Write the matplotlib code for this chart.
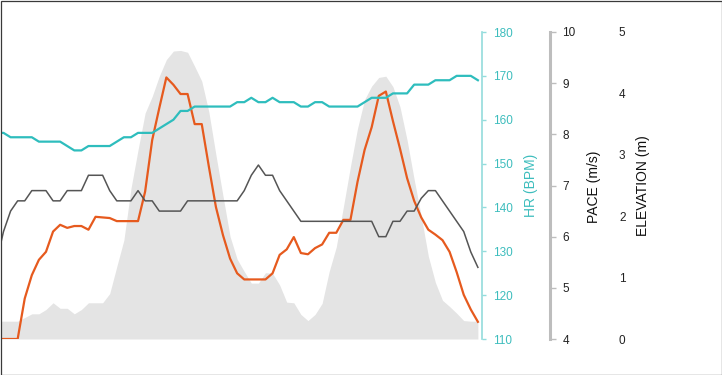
# -*-coding:Utf-8 -*
#######################################################################
# Importations :
import numpy as np
from matplotlib import pyplot as plt
from matplotlib.patches import Rectangle

#######################################################################
# Donnees (un point par echantillon) :

hr_bpm = [157, 157, 156, 156, 156, 156, 155, 155, 155, 155,
          154, 153, 153, 154, 154, 154, 154, 155, 156, 156,
          157, 157, 157, 158, 159, 160, 162, 162, 163, 163,
          163, 163, 163, 163, 164, 164, 165, 164, 164, 165,
          164, 164, 164, 163, 163, 164, 164, 163, 163, 163,
          163, 163, 164, 165, 165, 165, 166, 166, 166, 168,
          168, 168, 169, 169, 169, 170, 170, 170, 169]

pace_ms = [5.5, 6.1, 6.5, 6.7, 6.7, 6.9, 6.9, 6.9, 6.7, 6.7,
           6.9, 6.9, 6.9, 7.2, 7.2, 7.2, 6.9, 6.7, 6.7, 6.7,
           6.9, 6.7, 6.7, 6.5, 6.5, 6.5, 6.5, 6.7, 6.7, 6.7,
           6.7, 6.7, 6.7, 6.7, 6.7, 6.9, 7.2, 7.4, 7.2, 7.2,
           6.9, 6.7, 6.5, 6.3, 6.3, 6.3, 6.3, 6.3, 6.3, 6.3,
           6.3, 6.3, 6.3, 6.3, 6.0, 6.0, 6.3, 6.3, 6.5, 6.5,
           6.75, 6.9, 6.9, 6.7, 6.5, 6.3, 6.1, 5.7, 5.4]

elevation_m = [0, 0, 0, 0, 0.66, 1.04, 1.29, 1.42, 1.75, 1.86,
               1.81, 1.84, 1.84, 1.78, 1.99, 1.98, 1.97, 1.92, 1.92, 1.92,
               1.92, 2.40, 3.24, 3.76, 4.26, 4.14, 3.99, 3.99, 3.50, 3.50,
               2.81, 2.15, 1.69, 1.31, 1.07, 0.97, 0.97, 0.97, 0.97, 1.07,
               1.37, 1.46, 1.66, 1.40, 1.38, 1.48, 1.54, 1.73, 1.73, 1.94,
               1.94, 2.56, 3.08, 3.45, 3.96, 4.03, 3.55, 3.10, 2.62, 2.25,
               1.98, 1.78, 1.70, 1.61, 1.42, 1.09, 0.72, 0.48, 0.28]

terrain_m = [0.29, 0.29, 0.29, 0.29, 0.35, 0.41, 0.41, 0.48, 0.59, 0.50,
             0.50, 0.41, 0.48, 0.59, 0.59, 0.59, 0.74, 1.18, 1.61, 2.45,
             3.08, 3.68, 3.95, 4.28, 4.55, 4.69, 4.70, 4.67, 4.44, 4.20,
             3.70, 3.00, 2.33, 1.67, 1.30, 1.10, 0.91, 0.91, 1.08, 1.07,
             0.88, 0.60, 0.59, 0.40, 0.30, 0.40, 0.58, 1.10, 1.50, 2.15,
             2.81, 3.43, 3.90, 4.12, 4.26, 4.28, 4.11, 3.78, 3.24, 2.60,
             2.00, 1.35, 0.92, 0.63, 0.53, 0.42, 0.30, 0.29, 0.29]

hr_ticks = [110, 120, 130, 140, 150, 160, 170, 180]
pace_ticks = [4, 5, 6, 7, 8, 9, 10]
elev_ticks = [0, 1, 2, 3, 4, 5]

#######################################################################
# Fonctions locales :

W, H = 722, 375
TEAL = '#2ebdbd'


def clean_axis(ax, spine_pos, spine_color, spine_width, show_spine=True):
    """
    Ne garde que l'axe de droite, place a spine_pos (fraction d'axe).
    """
    for side in ('top', 'bottom', 'left'):
        ax.spines[side].set_visible(False)
    ax.spines['right'].set_position(('axes', spine_pos))
    ax.spines['right'].set_color(spine_color)
    ax.spines['right'].set_linewidth(spine_width)
    ax.spines['right'].set_visible(show_spine)
    ax.yaxis.set_ticks_position('right')
    ax.set_xticks([])


# ------------------------------------------------------------------- #
def main() -> int:
    plt.rcParams['font.family'] = ['Liberation Sans', 'DejaVu Sans']

    fig = plt.figure(figsize=(W / 100, H / 100), dpi=100)
    ax_el = fig.add_axes([1 / W, 36 / H, 481 / W, 307 / H])
    ax_hr = ax_el.twinx()
    ax_pace = ax_el.twinx()

    x = np.arange(len(hr_bpm))

    # Trace des series :
    ax_el.fill_between(x, 0, terrain_m, color='#e4e4e4', lw=0)
    ax_el.plot(x, elevation_m, color='#e65a1e', lw=1.6)
    ax_hr.plot(x, hr_bpm, color=TEAL, lw=1.6)
    ax_pace.plot(x, pace_ms, color='#555555', lw=1.1)

    ax_el.set_xlim(0.647, 68.58)

    # Axe HR :
    ax_hr.set_ylim(110, 180)
    ax_hr.set_yticks(hr_ticks)
    clean_axis(ax_hr, 1.0, '#93dcdc', 1.2)
    ax_hr.tick_params(axis='y', length=3, width=1, color='#93dcdc',
                      labelcolor='#3dbdbd', labelsize=8.5, pad=5)

    # Axe PACE :
    ax_pace.set_ylim(4, 10)
    ax_pace.set_yticks(pace_ticks)
    clean_axis(ax_pace, 549 / 481, '#bdbdbd', 2.2)
    ax_pace.tick_params(axis='y', length=4, width=1, color='#bdbdbd',
                        labelcolor='#222222', labelsize=8.5, pad=5)

    # Axe ELEVATION (sans ligne) :
    ax_el.set_ylim(0, 5)
    ax_el.set_yticks(elev_ticks)
    clean_axis(ax_el, 611 / 481, 'white', 1, show_spine=False)
    ax_el.tick_params(axis='y', length=0, labelcolor='#222222',
                      labelsize=8.5, pad=5)

    # Libelles des axes :
    fig.text(531.5 / W, 1 - 185.5 / H, 'HR (BPM)', rotation=90,
             ha='center', va='center', fontsize=10, color='#3dbdbd')
    fig.text(594 / W, 1 - 186.5 / H, 'PACE (m/s)', rotation=90,
             ha='center', va='center', fontsize=10, color='#111111')
    fig.text(643 / W, 1 - 185.5 / H, 'ELEVATION (m)', rotation=90,
             ha='center', va='center', fontsize=10, color='#111111')

    # Cadre autour de l'image :
    fig.patches.append(Rectangle((0.5 / W, 0.5 / H), 1 - 1 / W, 1 - 1 / H,
                                 transform=fig.transFigure, fill=False,
                                 edgecolor='#3a3a3a', lw=0.9))

    fig.savefig('out.png', dpi=100)
    return (0)

#######################################################################
if __name__ == "__main__":
    main()
